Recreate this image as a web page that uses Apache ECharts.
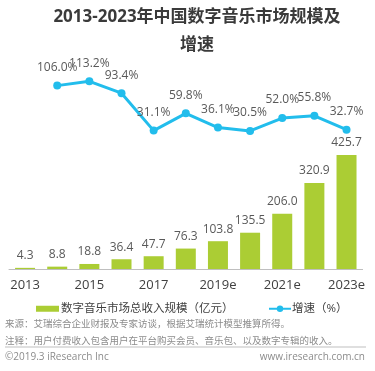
<!DOCTYPE html>
<html><head><meta charset="utf-8">
<script src="https://cdn.jsdelivr.net/npm/echarts@6/dist/echarts.min.js"></script>
<style>html,body{margin:0;padding:0;background:#fff}#c{width:375px;height:371px}</style>
</head><body><div id="c"></div>
<script>
var categories = ['2013','2014','2015','2016','2017','2018','2019e','2020e','2021e','2022e','2023e'];
var marketSize = [4.3, 8.8, 18.8, 36.4, 47.7, 76.3, 103.8, 135.5, 206.0, 320.9, 425.7];
var growthRate = ['-', 106.0, 113.2, 93.4, 31.1, 59.8, 36.1, 30.5, 52.0, 55.8, 32.7];
var titleLines = ['2013-2023年中国数字音乐市场规模及', '增速'];
var seriesNames = ['数字音乐市场总收入规模（亿元）', '增速（%）'];
var sourceNote = '来源：艾瑞综合企业财报及专家访谈，根据艾瑞统计模型推算所得。';
var remarkNote = '注释：用户付费收入包含用户在平台购买会员、音乐包、以及数字专辑的收入。';
var copyright = '©2019.3 iResearch Inc';
var website = 'www.iresearch.com.cn';

var FONT = "'Open Sans','Noto Sans CJK SC',sans-serif";
var TFONT = "bold 17px 'Open Sans','Noto Sans CJK SC',sans-serif";
var chart = echarts.init(document.getElementById('c'));
chart.setOption({
  animation: false,
  textStyle: {fontFamily: FONT},
  grid: [
    {left: 9, right: 12.4, top: 148.5, bottom: 102},
    {left: 9, right: 12.4, top: 77.2, bottom: 221.7}
  ],
  xAxis: [
    {type: 'category', gridIndex: 0, data: categories,
     axisTick: {show: false},
     axisLine: {lineStyle: {color: '#bfbfbf', width: 1}},
     axisLabel: {interval: 1, color: '#404040', fontSize: 13, margin: 10, fontFamily: FONT}},
    {type: 'category', gridIndex: 1, data: categories, show: false}
  ],
  yAxis: [
    {type: 'value', gridIndex: 0, min: 0, max: 450, show: false},
    {type: 'value', gridIndex: 1, min: 0, max: 120, show: false}
  ],
  legend: [
    {left: 31, top: 298, itemWidth: 23, itemHeight: 6, itemGap: 0,
     textStyle: {color: '#404040', fontSize: 11.5, fontFamily: FONT, padding: [0,0,0,-3]},
     data: [{name: seriesNames[0], icon: 'rect'}]},
    {left: 263, top: 298, itemWidth: 22, itemHeight: 8,
     textStyle: {color: '#404040', fontSize: 11.5, fontFamily: FONT, padding: [0,0,0,-4]},
     data: [{name: seriesNames[1]}]}
  ],
  series: [
    {name: seriesNames[0], type: 'bar', xAxisIndex: 0, yAxisIndex: 0,
     data: marketSize, barWidth: 20,
     itemStyle: {color: '#abcd34'},
     label: {show: true, position: 'top', distance: 6, color: '#595959', fontSize: 12,
             fontFamily: FONT, formatter: function(p){return p.value.toFixed(1);}}},
    {name: seriesNames[1], type: 'line', xAxisIndex: 1, yAxisIndex: 1,
     data: growthRate, symbol: 'circle', symbolSize: 8,
     lineStyle: {color: '#22bdec', width: 3},
     itemStyle: {color: '#22bdec'},
     label: {show: true, position: 'top', distance: 8, color: '#595959', fontSize: 12,
             fontFamily: FONT, formatter: function(p){return p.value.toFixed(1) + '%';}}}
  ],
  graphic: [
    {type: 'text', x: 197, y: 17, style: {text: titleLines[0], fill: '#3a3a3a',
      font: TFONT, align: 'center', verticalAlign: 'middle'}},
    {type: 'text', x: 197, y: 45, style: {text: titleLines[1], fill: '#3a3a3a',
      font: TFONT, align: 'center', verticalAlign: 'middle'}},
    {type: 'text', x: 5, y: 323, style: {text: sourceNote, fill: '#8c8c8c',
      font: "9.5px 'Noto Sans CJK SC',sans-serif", verticalAlign: 'middle'}},
    {type: 'text', x: 5, y: 340, style: {text: remarkNote, fill: '#8c8c8c',
      font: "9.5px 'Noto Sans CJK SC',sans-serif", verticalAlign: 'middle'}},
    {type: 'line', shape: {x1: 5, y1: 347, x2: 366, y2: 347}, style: {stroke: '#bfbfbf', lineWidth: 1}},
    {type: 'text', x: 5, y: 357, style: {text: copyright, fill: '#8c8c8c',
      font: "10px 'Open Sans',sans-serif", verticalAlign: 'middle'}},
    {type: 'text', x: 365, y: 357, style: {text: website, fill: '#8c8c8c',
      font: "10px 'Open Sans',sans-serif", align: 'right', verticalAlign: 'middle'}}
  ]
});
</script>
</body></html>
